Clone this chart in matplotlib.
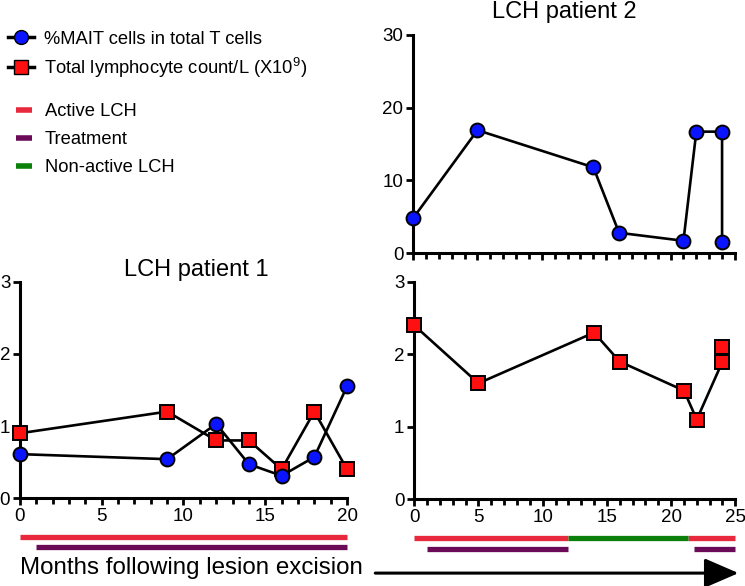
import numpy as np
import matplotlib
matplotlib.use('Agg')
import matplotlib.pyplot as plt
from matplotlib.lines import Line2D
from matplotlib.ticker import MultipleLocator

plt.rcParams['font.family'] = ['Liberation Sans', 'DejaVu Sans']
plt.rcParams['mathtext.fontset'] = 'custom'
plt.rcParams['mathtext.rm'] = 'Liberation Sans'

# patient 1 data
p1_months_mait = [0, 9, 12, 14, 16, 18, 20]
p1_mait = [0.61, 0.54, 1.03, 0.47, 0.31, 0.57, 1.55]
p1_months_lym = [0, 9, 12, 14, 16, 18, 20]
p1_lym = [0.9, 1.2, 0.8, 0.8, 0.4, 1.2, 0.4]

# patient 2 data
p2_months_mait = [0, 5, 14, 16, 21, 22, 24, 24]
p2_mait = [4.8, 16.9, 11.8, 2.8, 1.7, 16.7, 16.7, 1.5]
p2_months_lym = [0, 5, 14, 16, 21, 22, 24, 24]
p2_lym = [2.4, 1.6, 2.3, 1.9, 1.5, 1.1, 1.9, 2.1]

# status periods (start, end) in months
p1_active = [(0, 20)]
p1_treat = [(1, 20)]
p2_active = [(0, 12), (21.3, 25)]
p2_nonactive = [(12, 21.3)]
p2_treat = [(1, 12), (21.8, 25)]

c_active = '#e8283c'
c_treat = '#6b0b57'
c_nonact = '#0b800b'
c_blue = '#0a14ff'
c_red = '#ff1010'

fig = plt.figure(figsize=(7.45, 5.86), dpi=100)
ax1 = fig.add_axes([0.0268, 0.150, 0.439, 0.369])
ax2 = fig.add_axes([0.5545, 0.568, 0.432, 0.3725])
ax3 = fig.add_axes([0.556, 0.148, 0.431, 0.371])

def style(ax, xmax, ymax, ystep, xlabels=True):
    for s in ['top', 'right']:
        ax.spines[s].set_visible(False)
    for s in ['left', 'bottom']:
        ax.spines[s].set_linewidth(2.2)
    ax.set_xlim(0, xmax)
    ax.set_ylim(0, ymax)
    ax.xaxis.set_major_locator(MultipleLocator(5))
    ax.xaxis.set_minor_locator(MultipleLocator(1))
    ax.yaxis.set_major_locator(MultipleLocator(ystep))
    ax.tick_params(axis='both', which='major', length=5, width=2, labelsize=13.5, pad=2)
    ax.tick_params(axis='x', which='minor', length=4, width=2)
    if not xlabels:
        ax.tick_params(axis='x', labelbottom=False)

def series(ax, x, y, marker, color):
    ax.plot(x, y, color='black', lw=1.9, marker=marker, markersize=10,
            markerfacecolor=color, markeredgecolor='black', markeredgewidth=1.4,
            clip_on=False, zorder=3)

def bars(ax, periods, color, ypos):
    for a, b in periods:
        ax.plot([a, b], [ypos, ypos], color=color, lw=3.8, solid_capstyle='butt',
                transform=ax.get_xaxis_transform(), clip_on=False)

# patient 1
series(ax1, p1_months_lym, p1_lym, 's', c_red)
series(ax1, p1_months_mait, p1_mait, 'o', c_blue)
style(ax1, 20, 3, 1)
bars(ax1, p1_active, c_active, -0.179)
bars(ax1, p1_treat, c_treat, -0.228)
ax1.text(0.54, 1.056, 'LCH patient 1', transform=ax1.transAxes,
         ha='center', va='center', fontsize=17)

# patient 2 MAIT
series(ax2, p2_months_mait, p2_mait, 'o', c_blue)
style(ax2, 25, 30, 10, xlabels=False)
ax2.text(0.47, 1.105, 'LCH patient 2', transform=ax2.transAxes,
         ha='center', va='center', fontsize=17)

# patient 2 lymphocytes
series(ax3, p2_months_lym, p2_lym, 's', c_red)
style(ax3, 25, 3, 1)
bars(ax3, p2_active, c_active, -0.178)
bars(ax3, p2_nonactive, c_nonact, -0.178)
bars(ax3, p2_treat, c_treat, -0.227)

# legends
h1 = [Line2D([], [], color='black', lw=2.5, marker='o', markersize=10,
             markerfacecolor=c_blue, markeredgecolor='black'),
      Line2D([], [], color='black', lw=2.5, marker='s', markersize=10,
             markerfacecolor=c_red, markeredgecolor='black')]
fig.legend(h1, ['%MAIT cells in total T cells', r'Total lymphocyte count/L (X10$^{9}$)'],
           loc='upper left', bbox_to_anchor=(0.003, 0.957), frameon=False,
           fontsize=13.2, handlelength=1.45, handletextpad=0.55, labelspacing=0.43,
           borderaxespad=0, borderpad=0.3)
h2 = [Line2D([], [], color=c, lw=4, solid_capstyle='butt') for c in [c_active, c_treat, c_nonact]]
fig.legend(h2, ['Active LCH', 'Treatment', 'Non-active LCH'],
           loc='upper left', bbox_to_anchor=(0.014, 0.833), frameon=False,
           fontsize=13.2, handlelength=0.86, handletextpad=0.7, labelspacing=0.6,
           borderaxespad=0, borderpad=0.3)

# x label and arrow
fig.text(0.027, 0.031, 'Months following lesion excision', fontsize=17.4,
         ha='left', va='center')
fig.add_artist(matplotlib.patches.FancyArrowPatch(
    (0.50, 0.022), (0.995, 0.022), transform=fig.transFigure,
    arrowstyle='-|>,head_length=1.5,head_width=0.65', mutation_scale=14,
    color='black', lw=2.2))

plt.savefig('out.png', dpi=100)
